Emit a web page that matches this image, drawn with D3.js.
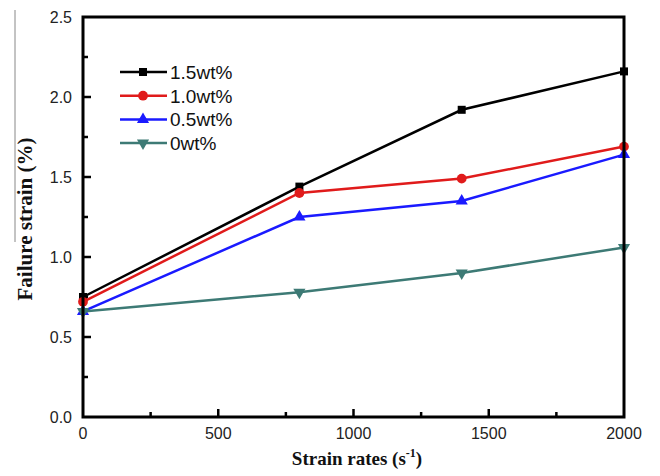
<!DOCTYPE html>
<html>
<head>
<meta charset="utf-8">
<script src="https://cdn.jsdelivr.net/npm/d3@7"></script>
<style>
  body { margin: 0; background: #fff; }
  .tick-label { font-family: "Liberation Sans", Arial, sans-serif; font-size: 16px; fill: #222; }
  .axis-title { font-family: "Liberation Serif", "Times New Roman", serif; font-weight: bold; fill: #111; }
  .legend-label { font-family: "Liberation Sans", Arial, sans-serif; font-size: 19px; fill: #111; }
</style>
</head>
<body>
<svg id="chart" width="660" height="476"></svg>
<script>
var strainRates = [0, 800, 1400, 2000];

var series15 = [0.75, 1.44, 1.92, 2.16];
var series10 = [0.72, 1.40, 1.49, 1.69];
var series05 = [0.66, 1.25, 1.35, 1.64];
var series00 = [0.66, 0.78, 0.90, 1.06];

var seriesNames = ["1.5wt%", "1.0wt%", "0.5wt%", "0wt%"];
var seriesColors = ["#000000", "#e01b1b", "#1a1aff", "#3d7a75"];
var seriesSymbols = [d3.symbolSquare, d3.symbolCircle, d3.symbolTriangle, d3.symbolTriangle];

var xTicks = [0, 500, 1000, 1500, 2000];
var yTicks = [0.0, 0.5, 1.0, 1.5, 2.0, 2.5];

var allSeries = [series15, series10, series05, series00];

var margin = { top: 17, right: 36, bottom: 59, left: 83 };
var width = 660 - margin.left - margin.right;
var height = 476 - margin.top - margin.bottom;

var svg = d3.select("#chart");
var g = svg.append("g").attr("transform", "translate(" + margin.left + "," + margin.top + ")");

var x = d3.scaleLinear().domain([0, 2000]).range([0, width]);
var y = d3.scaleLinear().domain([0, 2.5]).range([height, 0]);

// inward ticks, major + minor
var xMinor = d3.range(250, 2000, 500);
var yMinor = d3.range(0.25, 2.5, 0.5);

g.selectAll(".xmaj").data(xTicks.slice(1, -1)).enter().append("line")
  .attr("x1", function(d) { return x(d); }).attr("x2", function(d) { return x(d); })
  .attr("y1", height).attr("y2", height - 8)
  .attr("stroke", "#000").attr("stroke-width", 2.5);
g.selectAll(".xmin").data(xMinor).enter().append("line")
  .attr("x1", function(d) { return x(d); }).attr("x2", function(d) { return x(d); })
  .attr("y1", height).attr("y2", height - 5)
  .attr("stroke", "#000").attr("stroke-width", 2.5);
g.selectAll(".ymaj").data(yTicks.slice(1, -1)).enter().append("line")
  .attr("y1", function(d) { return y(d); }).attr("y2", function(d) { return y(d); })
  .attr("x1", 0).attr("x2", 8)
  .attr("stroke", "#000").attr("stroke-width", 2.5);
g.selectAll(".ymin").data(yMinor).enter().append("line")
  .attr("y1", function(d) { return y(d); }).attr("y2", function(d) { return y(d); })
  .attr("x1", 0).attr("x2", 5)
  .attr("stroke", "#000").attr("stroke-width", 2.5);

// tick labels
g.selectAll(".xlab").data(xTicks).enter().append("text")
  .attr("class", "tick-label")
  .attr("x", function(d) { return x(d); })
  .attr("y", height + 22)
  .attr("text-anchor", "middle")
  .text(function(d) { return d; });
g.selectAll(".ylab").data(yTicks).enter().append("text")
  .attr("class", "tick-label")
  .attr("x", -11)
  .attr("y", function(d) { return y(d) + 6; })
  .attr("text-anchor", "end")
  .text(function(d) { return d.toFixed(1); });

// lines and markers
var line = d3.line()
  .x(function(d, i) { return x(strainRates[i]); })
  .y(function(d) { return y(d); });

allSeries.forEach(function(vals, k) {
  g.append("path")
    .datum(vals)
    .attr("fill", "none")
    .attr("stroke", seriesColors[k])
    .attr("stroke-width", 2.5)
    .attr("d", line);

  g.selectAll(".m" + k).data(vals).enter().append("path")
    .attr("d", d3.symbol().type(seriesSymbols[k]).size(k == 1 ? 75 : 64))
    .attr("transform", function(d, i) {
      return "translate(" + x(strainRates[i]) + "," + y(d) + ")" + (k == 3 ? " rotate(180)" : "");
    })
    .attr("fill", seriesColors[k]);
});

// frame
g.append("rect")
  .attr("x", 0).attr("y", 0)
  .attr("width", width).attr("height", height)
  .attr("fill", "none")
  .attr("stroke", "#000")
  .attr("stroke-width", 3);

// legend
var legend = g.append("g").attr("transform", "translate(37,55)");
seriesNames.forEach(function(name, k) {
  var ly = k * 23.7;
  legend.append("line")
    .attr("x1", 0).attr("x2", 47)
    .attr("y1", ly).attr("y2", ly)
    .attr("stroke", seriesColors[k]).attr("stroke-width", 2.5);
  legend.append("path")
    .attr("d", d3.symbol().type(seriesSymbols[k]).size(k == 1 ? 75 : 64))
    .attr("transform", "translate(23," + ly + ")" + (k == 3 ? " rotate(180)" : ""))
    .attr("fill", seriesColors[k]);
  legend.append("text")
    .attr("class", "legend-label")
    .attr("x", 50).attr("y", ly + 7)
    .text(name);
});

// axis titles
var xt = svg.append("text")
  .attr("class", "axis-title")
  .attr("font-size", 19)
  .attr("x", 357)
  .attr("y", 465)
  .attr("text-anchor", "middle");
xt.append("tspan").text("Strain rates (s");
xt.append("tspan").attr("dy", -8).attr("font-size", 12).text("-1");
xt.append("tspan").attr("dy", 8).text(")");

svg.append("text")
  .attr("class", "axis-title")
  .attr("font-size", 21)
  .attr("transform", "translate(32,219) rotate(-90)")
  .attr("text-anchor", "middle")
  .text("Failure strain (%)");

// thin grey rule at the top-left edge of the scan
svg.append("line")
  .attr("x1", 15).attr("x2", 15).attr("y1", 10).attr("y2", 242)
  .attr("stroke", "#888").attr("stroke-width", 1);
</script>
</body>
</html>
